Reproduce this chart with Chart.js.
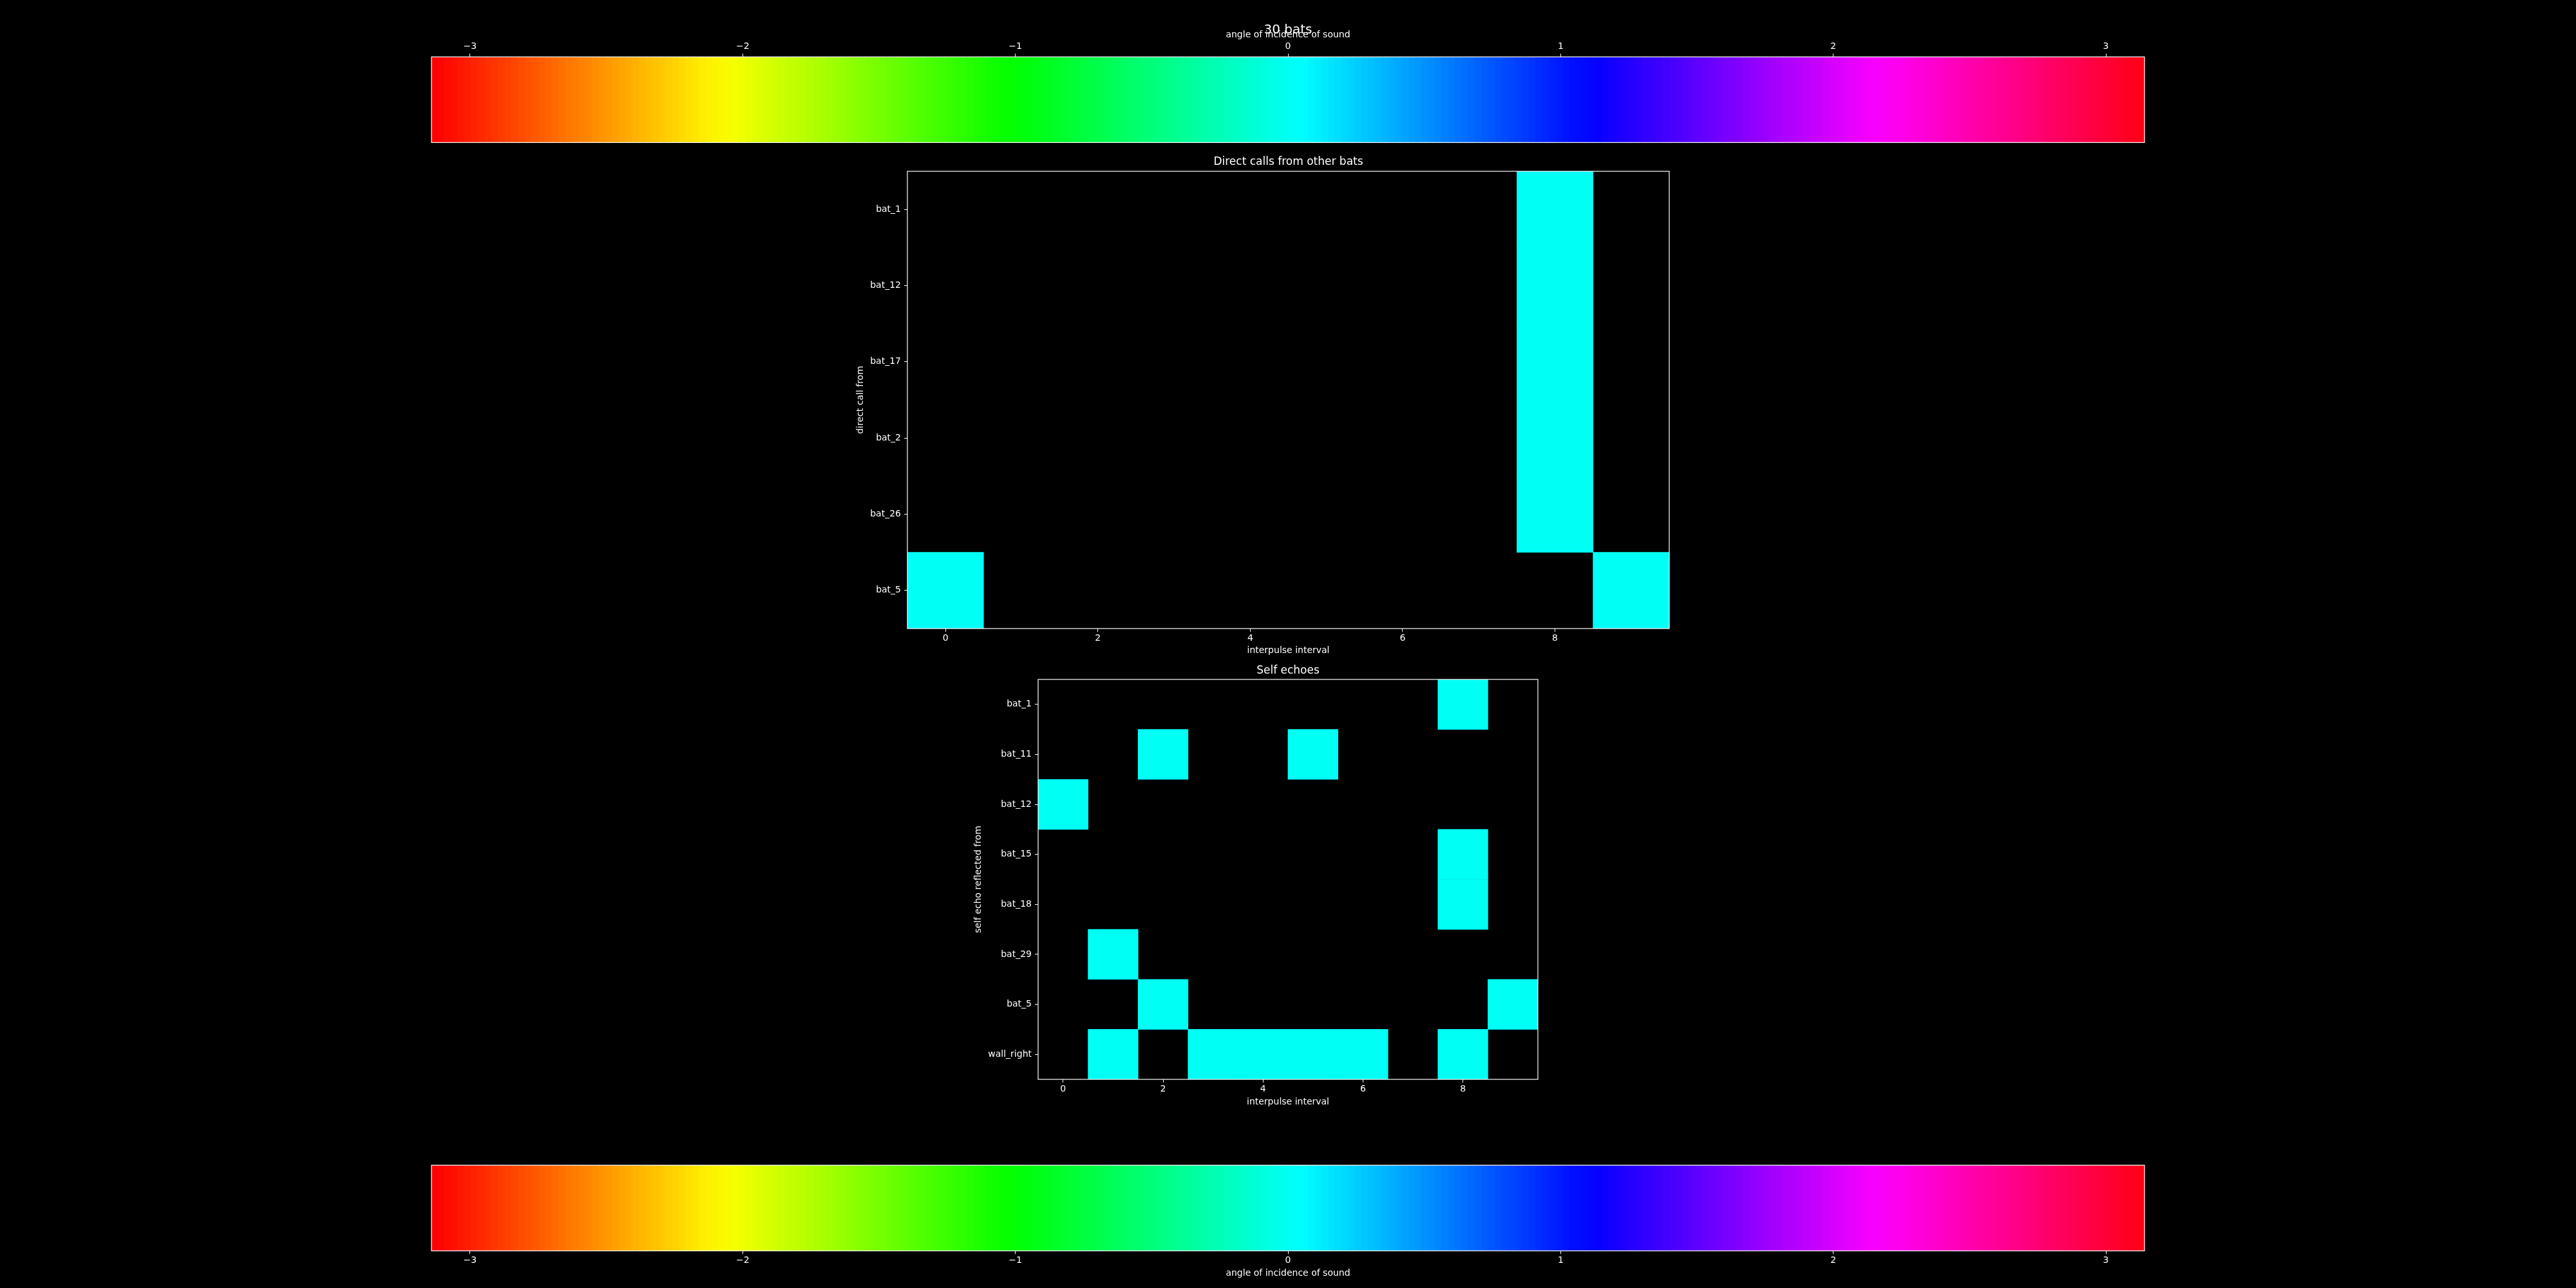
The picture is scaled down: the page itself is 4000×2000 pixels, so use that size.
<!DOCTYPE html>
<html>
<head>
<meta charset="utf-8">
<script src="https://cdn.jsdelivr.net/npm/chart.js@4/dist/chart.umd.min.js"></script>
<style>
html, body { margin: 0; padding: 0; background: #000; width: 4000px; height: 2000px; overflow: hidden; }
canvas { position: absolute; }
</style>
</head>
<body>
<canvas id="cbTop" width="2800" height="240" style="left:600px;top:0px;width:2800px;height:240px"></canvas>
<canvas id="hmDirect" width="1300" height="785" style="left:1300px;top:241px;width:1300px;height:785px"></canvas>
<canvas id="hmSelf" width="916" height="695" style="left:1480px;top:1031px;width:916px;height:695px"></canvas>
<canvas id="cbBottom" width="2800" height="210" style="left:600px;top:1790px;width:2800px;height:210px"></canvas>
<script>
// ---------------- data ----------------
const suptitle = '30 bats';
const colorbarLabel = 'angle of incidence of sound';
const colorbarTicks = [-3, -2, -1, 0, 1, 2, 3];
const angleMin = -Math.PI;
const angleMax = Math.PI;

const intervals = [0, 1, 2, 3, 4, 5, 6, 7, 8, 9];
const intervalTicks = [0, 2, 4, 6, 8];
const xLabel = 'interpulse interval';

const _ = null;
const directTitle = 'Direct calls from other bats';
const directYLabel = 'direct call from';
const directRows = ['bat_1', 'bat_12', 'bat_17', 'bat_2', 'bat_26', 'bat_5'];
const directAngles = [
  [_, _, _, _, _, _, _, _, 0, _],
  [_, _, _, _, _, _, _, _, 0, _],
  [_, _, _, _, _, _, _, _, 0, _],
  [_, _, _, _, _, _, _, _, 0, _],
  [_, _, _, _, _, _, _, _, 0, _],
  [0, _, _, _, _, _, _, _, _, 0]
];

const selfTitle = 'Self echoes';
const selfYLabel = 'self echo reflected from';
const selfRows = ['bat_1', 'bat_11', 'bat_12', 'bat_15', 'bat_18', 'bat_29', 'bat_5', 'wall_right'];
const selfAngles = [
  [_, _, _, _, _, _, _, _, 0, _],
  [_, _, 0, _, _, 0, _, _, _, _],
  [0, _, _, _, _, _, _, _, _, _],
  [_, _, _, _, _, _, _, _, 0, _],
  [_, _, _, _, _, _, _, _, 0, _],
  [_, 0, _, _, _, _, _, _, _, _],
  [_, _, 0, _, _, _, _, _, _, 0],
  [_, 0, _, 0, 0, 0, 0, _, 0, _]
];

// ---------------- colormap (matplotlib "hsv") ----------------
const hsvSegments = {
  r: [[0, 1], [0.158730, 1], [0.174603, 0.96875], [0.333333, 0.03125], [0.349206, 0], [0.666667, 0], [0.682540, 0.03125], [0.841270, 0.96875], [0.857143, 1], [1, 1]],
  g: [[0, 0], [0.158730, 0.9375], [0.174603, 1], [0.507937, 1], [0.666667, 0.0625], [0.682540, 0], [1, 0]],
  b: [[0, 0], [0.333333, 0], [0.349206, 0.0625], [0.507937, 1], [0.841270, 1], [0.857143, 0.9375], [1, 0.09375]]
};
function interpSeg(seg, x) {
  for (let i = 1; i < seg.length; i++) {
    if (x <= seg[i][0]) {
      const [x0, y0] = seg[i - 1], [x1, y1] = seg[i];
      return y0 + (y1 - y0) * (x - x0) / (x1 - x0);
    }
  }
  return seg[seg.length - 1][1];
}
const LUT_N = 256;
const lut = [];
for (let i = 0; i < LUT_N; i++) {
  const x = i / (LUT_N - 1);
  const r = Math.floor(interpSeg(hsvSegments.r, x) * 255);
  const g = Math.floor(interpSeg(hsvSegments.g, x) * 255);
  const b = Math.floor(interpSeg(hsvSegments.b, x) * 255);
  lut.push(`rgb(${r},${g},${b})`);
}
function angleColor(v) {
  const t = (v - angleMin) / (angleMax - angleMin);
  let idx = Math.floor(t * LUT_N);
  idx = Math.max(0, Math.min(LUT_N - 1, idx));
  return lut[idx];
}

// ---------------- shared ----------------
Chart.defaults.font.family = 'DejaVu Sans';
Chart.defaults.color = '#ffffff';

const framePlugin = {
  id: 'frame',
  afterDraw(chart) {
    const { ctx, chartArea: a } = chart;
    ctx.save();
    ctx.strokeStyle = '#ffffff';
    ctx.lineWidth = 1.2;
    ctx.strokeRect(a.left, a.top, a.right - a.left, a.bottom - a.top);
    ctx.restore();
  }
};

const colorbarPlugin = {
  id: 'colorbarFill',
  beforeDatasetsDraw(chart) {
    const { ctx, chartArea: a } = chart;
    const xs = chart.scales.x;
    const step = (angleMax - angleMin) / LUT_N;
    ctx.save();
    for (let i = 0; i < LUT_N; i++) {
      const p0 = Math.floor(xs.getPixelForValue(angleMin + i * step));
      const p1 = Math.ceil(xs.getPixelForValue(angleMin + (i + 1) * step));
      ctx.fillStyle = lut[i];
      ctx.fillRect(p0, a.top, Math.min(p1, a.right) - p0, a.bottom - a.top);
    }
    ctx.restore();
  }
};

const tickGrid = { display: true, drawOnChartArea: false, drawTicks: true, tickLength: 5, tickColor: '#ffffff', tickWidth: 1 };
const minusFmt = v => (v < 0 ? '\u2212' + Math.abs(v) : String(v));

function makeColorbar(id, position, geo, withSuptitle) {
  new Chart(document.getElementById(id), {
    type: 'scatter',
    data: { datasets: [] },
    options: {
      responsive: false, animation: false, events: [], devicePixelRatio: 1,
      layout: { padding: geo.padding },
      plugins: {
        legend: { display: false }, tooltip: { enabled: false },
        title: withSuptitle ? {
          display: true, text: suptitle, color: '#ffffff',
          font: { size: 20, weight: 'normal', lineHeight: 1.2 },
          padding: { top: 34.7, bottom: -13 }
        } : { display: false }
      },
      scales: {
        x: {
          type: 'linear', position: position, min: angleMin, max: angleMax,
          afterBuildTicks: s => { s.ticks = colorbarTicks.map(v => ({ value: v })); },
          afterFit: s => { s.height = geo.axisH; },
          ticks: { color: '#ffffff', font: { size: 14 }, padding: geo.tickPad, maxRotation: 0, autoSkip: false, callback: minusFmt },
          grid: tickGrid,
          border: { display: false },
          title: { display: true, text: colorbarLabel, color: '#ffffff', font: { size: 14 }, padding: geo.titlePad }
        },
        y: { display: false, min: 0, max: 1 }
      }
    },
    plugins: [colorbarPlugin, framePlugin]
  });
}

function makeHeatmap(id, rows, matrix, title, yLabel, geo) {
  const datasets = intervals.map((c, ci) => ({
    label: 'interval ' + c,
    data: rows.map((r, ri) => (matrix[ri][ci] === null ? null : [c - 0.5, c + 0.5])),
    backgroundColor: rows.map((r, ri) => (matrix[ri][ci] === null ? 'rgba(0,0,0,0)' : angleColor(matrix[ri][ci]))),
    borderWidth: 0,
    borderSkipped: false,
    grouped: false,
    barPercentage: 1,
    categoryPercentage: 1
  }));
  new Chart(document.getElementById(id), {
    type: 'bar',
    data: { labels: rows, datasets },
    options: {
      indexAxis: 'y',
      responsive: false, animation: false, events: [], devicePixelRatio: 1,
      layout: { padding: { left: 0, right: 8, top: 0, bottom: 0 } },
      plugins: {
        legend: { display: false }, tooltip: { enabled: false },
        title: {
          display: true, text: title, color: '#ffffff', fullSize: false,
          font: { size: 17, weight: 'normal', lineHeight: 1.2 },
          padding: { top: 0, bottom: geo.titlePadB }
        }
      },
      scales: {
        x: {
          type: 'linear', position: 'bottom', min: -0.5, max: 9.5,
          afterBuildTicks: s => { s.ticks = intervalTicks.map(v => ({ value: v })); },
          afterFit: s => { s.height = 50; },
          ticks: { color: '#ffffff', font: { size: 14 }, padding: 2, maxRotation: 0, autoSkip: false },
          grid: tickGrid,
          border: { display: false },
          title: { display: true, text: xLabel, color: '#ffffff', font: { size: 14 }, padding: { top: 0, bottom: geo.xTitlePadB } }
        },
        y: {
          type: 'category', position: 'left', offset: true,
          afterFit: s => { s.width = geo.yW; },
          ticks: { color: '#ffffff', font: { size: 14 }, padding: 5, autoSkip: false },
          grid: Object.assign({}, tickGrid, { offset: false }),
          border: { display: false },
          title: { display: true, text: yLabel, color: '#ffffff', font: { size: 14 }, padding: { top: geo.yTitlePadT, bottom: 0 } }
        }
      }
    },
    plugins: [framePlugin]
  });
}

makeColorbar('cbTop', 'top', {
  padding: { left: 70, right: 70, top: 0, bottom: 18.7 },
  axisH: 42.6, tickPad: 3, titlePad: { top: 0.2, bottom: 0 }
}, true);

makeHeatmap('hmDirect', directRows, directAngles, directTitle, directYLabel,
  { titlePadB: 4.6, yW: 109, yTitlePadT: 27.6, xTitlePadB: 7.1 });

makeHeatmap('hmSelf', selfRows, selfAngles, selfTitle, selfYLabel,
  { titlePadB: 3.6, yW: 132, yTitlePadT: 31.4, xTitlePadB: 6.6 });

makeColorbar('cbBottom', 'bottom', {
  padding: { left: 70, right: 70, top: 19.3, bottom: 0 },
  axisH: 57.7, tickPad: 2, titlePad: { top: 0, bottom: 14.3 }
}, false);
</script>
</body>
</html>
